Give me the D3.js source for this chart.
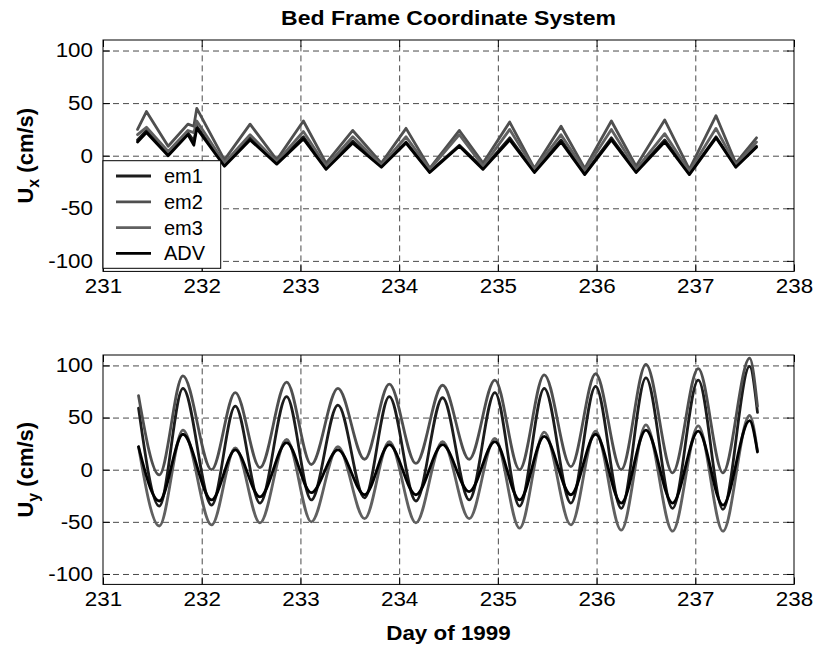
<!DOCTYPE html>
<html><head><meta charset="utf-8">
<script src="https://cdn.jsdelivr.net/npm/d3@7"></script>
<style>body{margin:0;background:#fff} text{font-family:Arial,"Liberation Sans",sans-serif;fill:#000}</style>
</head><body><svg id="c" width="817" height="649"></svg>
<script>
// ---------- data ----------
const dayTicks = [231, 232, 233, 234, 235, 236, 237, 238];
const uTicks = [-100, -50, 0, 50, 100];
const seriesNames = ["em1", "em2", "em3", "ADV"];
const seriesColors = ["#1c1c1c", "#4f4f4f", "#606060", "#000000"];

// Top panel (U_x), day of 1999
const tTop = [231.35, 231.44, 231.66, 231.86, 231.92, 231.95, 232.23, 232.49, 232.76, 233.03, 233.26, 233.53, 233.82, 234.07, 234.31, 234.61, 234.85, 235.12, 235.37, 235.64, 235.88, 236.15, 236.40, 236.69, 236.94, 237.21, 237.41, 237.62];
const uxEm1 = [15, 24, 1, 22, 14, 28, -9, 17, -7, 18, -12, 14, -10, 13, -15, 10, -12, 17, -15, 15, -17, 17, -15, 15, -17, 18, -10, 9];
const uxEm2 = [25, 42, 9, 30, 28, 45, -4, 30, -4, 33, -7, 24, -7, 26, -12, 24, -7, 32, -12, 28, -12, 33, -10, 34, -13, 38, -7, 17];
const uxEm3 = [20, 27, 4, 24, 22, 33, -7, 20, -6, 23, -10, 18, -9, 18, -13, 20, -10, 25, -13, 20, -14, 25, -13, 21, -15, 26, -9, 13];
const uxAdv = [13, 22, 0, 20, 10, 26, -10, 15, -8, 16, -13, 12, -11, 12, -16, 9, -13, 15, -16, 13, -18, 15, -16, 13, -18, 17, -11, 8];

// Bottom panel (U_y)
const tBot = [231.36, 231.57, 231.81, 232.10, 232.34, 232.59, 232.86, 233.11, 233.38, 233.65, 233.90, 234.17, 234.44, 234.71, 234.97, 235.22, 235.47, 235.74, 235.99, 236.25, 236.50, 236.77, 237.03, 237.28, 237.55, 237.63];
const uyEm1 = [59, -35, 78, -34, 61, -32, 70, -29, 62, -27, 70, -30, 69, -29, 74, -35, 78, -32, 80, -37, 88, -37, 86, -38, 99, 55];
const uyEm2 = [71, -5, 90, 0, 74, 2, 84, 5, 78, 10, 82, 6, 81, 10, 86, 0, 91, 3, 92, 0, 101, -3, 97, -3, 107, 61];
const uyEm3 = [22, -54, 38, -53, 21, -51, 29, -50, 22, -47, 27, -51, 27, -47, 30, -56, 36, -53, 37, -58, 43, -59, 42, -59, 52, 18];
const uyAdv = [22, -30, 34, -29, 19, -26, 26, -22, 19, -24, 24, -24, 24, -21, 27, -29, 32, -24, 34, -32, 38, -32, 37, -34, 47, 17];

const titleText = "Bed Frame Coordinate System";
const xLabelText = "Day of 1999";

// ---------- layout ----------
const svg = d3.select("#c");
const L = 103, R = 794;
const panels = [
  {top: 40, bottom: 271.4, t: tTop, ys: [uxEm1, uxEm2, uxEm3, uxAdv], sub: "x", curve: d3.curveLinear, legend: true},
  {top: 355, bottom: 584.4, t: tBot, ys: [uyEm1, uyEm2, uyEm3, uyAdv], sub: "y", curve: d3.curveMonotoneX, legend: false}
];
const x = d3.scaleLinear().domain([231, 238]).range([L, R]);
const fmt = d => String(d);

function stretch(sel, k) {
  sel.each(function() {
    const w = this.getComputedTextLength();
    d3.select(this).attr("textLength", w * k).attr("lengthAdjust", "spacingAndGlyphs");
  });
}

panels.forEach(p => {
  const y = d3.scaleLinear().domain([-110, 110]).range([p.bottom, p.top]);
  const g = svg.append("g");
  const W = R - L, H = p.bottom - p.top;

  // grid
  const grid = g.append("g").attr("class", "grid");
  grid.append("g").attr("transform", `translate(0,${p.bottom})`)
    .call(d3.axisBottom(x).tickValues(dayTicks.slice(1, -1)).tickSize(-H).tickFormat(""))
    .call(s => s.select(".domain").remove());
  grid.append("g").attr("transform", `translate(${L},0)`)
    .call(d3.axisLeft(y).tickValues(uTicks).tickSize(-W).tickFormat(""))
    .call(s => s.select(".domain").remove());
  grid.selectAll("line").attr("stroke", "#4a4a4a").attr("stroke-width", 1).attr("stroke-dasharray", "6,4");

  // series
  const line = d3.line().x((d, i) => x(p.t[i])).y(d => y(d)).curve(p.curve);
  p.ys.forEach((vals, k) => {
    g.append("path").datum(vals).attr("d", line)
      .attr("fill", "none").attr("stroke", seriesColors[k])
      .attr("stroke-width", 2.8).attr("stroke-linejoin", "round").attr("stroke-linecap", "round");
  });

  // axes (inside ticks like MATLAB)
  const ax = g.append("g");
  ax.append("g").attr("transform", `translate(0,${p.bottom})`)
    .call(d3.axisBottom(x).tickValues(dayTicks).tickSize(-7).tickSizeOuter(0).tickPadding(7).tickFormat(fmt));
  ax.append("g").attr("transform", `translate(${L},0)`)
    .call(d3.axisLeft(y).tickValues(uTicks).tickSize(-7).tickSizeOuter(0).tickPadding(10).tickFormat(fmt));
  ax.append("g").attr("transform", `translate(0,${p.top})`)
    .call(d3.axisTop(x).tickValues(dayTicks).tickSize(-7).tickSizeOuter(0).tickFormat(""));
  ax.append("g").attr("transform", `translate(${R},0)`)
    .call(d3.axisRight(y).tickValues(uTicks).tickSize(-7).tickSizeOuter(0).tickFormat(""));
  ax.selectAll(".domain").remove();
  ax.selectAll("line").attr("stroke", "#000");
  ax.selectAll("text").attr("font-size", 20).attr("font-family", "Arial, 'Liberation Sans', sans-serif").attr("fill", "#000");
  stretch(ax.selectAll("text"), 1.12);

  // box
  g.append("rect").attr("x", L).attr("y", p.top).attr("width", W).attr("height", H)
    .attr("fill", "none").attr("stroke", "#000").attr("stroke-width", 1);

  // y label
  const cy = (p.top + p.bottom) / 2;
  const yl = g.append("text").attr("transform", `translate(33,${cy}) rotate(-90)`)
    .attr("text-anchor", "middle").attr("font-weight", "bold").attr("font-size", 22);
  yl.append("tspan").text("U");
  yl.append("tspan").attr("font-size", 16).attr("dy", 6).text(p.sub);
  yl.append("tspan").attr("dy", -6).text(" (cm/s)");

  // legend
  if (p.legend) {
    const lg = g.append("g");
    lg.append("rect").attr("x", L).attr("y", 160.7).attr("width", 117.7).attr("height", 107.6)
      .attr("fill", "#fff").attr("stroke", "#000").attr("stroke-width", 1);
    seriesNames.forEach((n, k) => {
      const yy = 176 + k * 25.8;
      lg.append("line").attr("x1", 116).attr("x2", 151).attr("y1", yy).attr("y2", yy)
        .attr("stroke", seriesColors[k]).attr("stroke-width", 2.8);
      lg.append("text").attr("x", 164).attr("y", yy + 7).attr("font-size", 20).text(n);
    });
  }
});

// title and x label
const tt = svg.append("text").attr("x", (L + R) / 2).attr("y", 25).attr("text-anchor", "middle")
  .attr("font-weight", "bold").attr("font-size", 20).text(titleText);
stretch(tt, 1.15);
const xl = svg.append("text").attr("x", (L + R) / 2).attr("y", 640).attr("text-anchor", "middle")
  .attr("font-weight", "bold").attr("font-size", 20).text(xLabelText);
stretch(xl, 1.12);
</script></body></html>
